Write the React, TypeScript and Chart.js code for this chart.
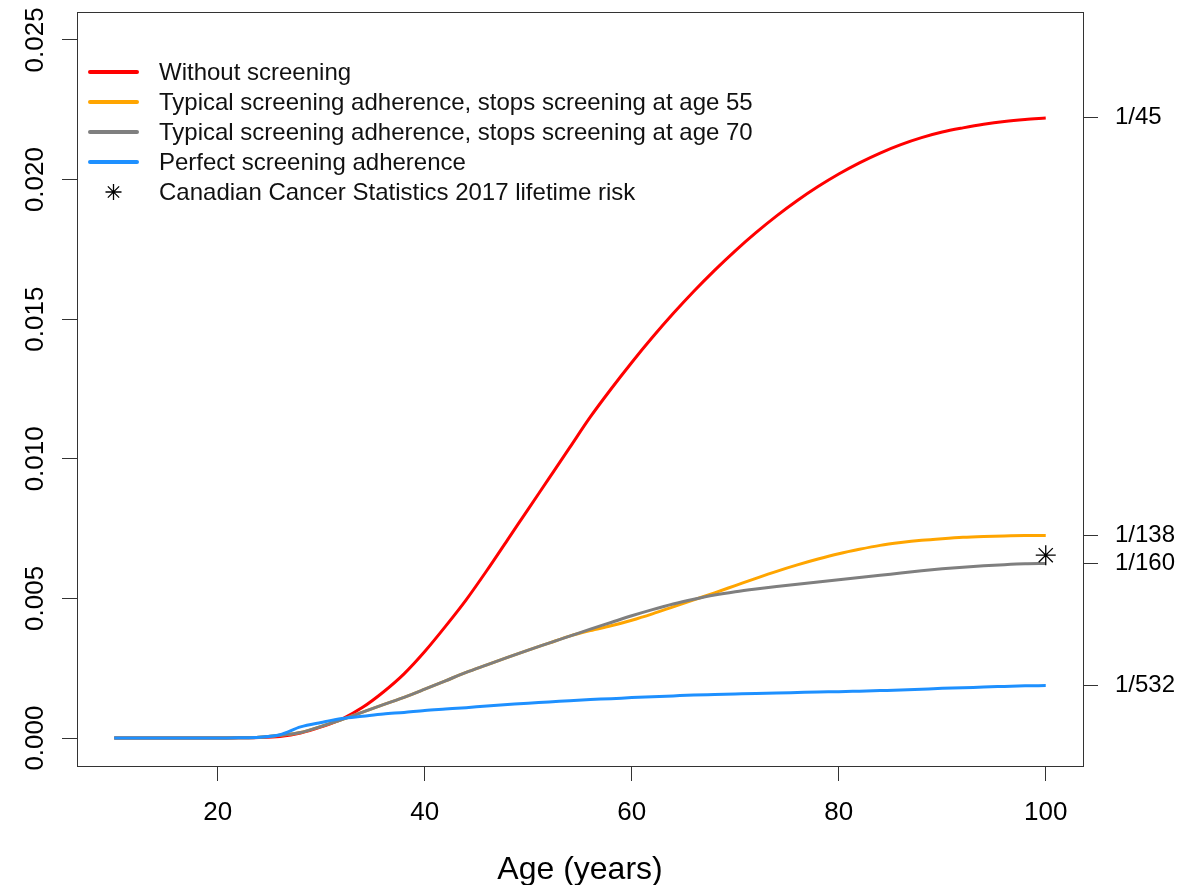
import React, { useEffect, useRef } from 'react';
import { Chart, registerables } from 'chart.js';

Chart.register(...registerables);

const FONT = '"Liberation Sans", Arial, Helvetica, sans-serif';

const ages = [10, 12, 14, 16, 18, 20, 22, 24, 26, 28, 30, 32, 34, 36, 38, 40, 42, 44, 46, 48, 50, 52, 54, 56, 58, 60, 62, 64, 66, 68, 70, 72, 74, 76, 78, 80, 82, 84, 86, 88, 90, 92, 94, 96, 98, 100];

const withoutScreening = [
  0, 0, 0, 0, 0, 0,
  0.00001, 0.00002, 0.00006, 0.00018, 0.0004, 0.00068, 0.0011, 0.00165, 0.0023, 0.0031,
  0.004, 0.00495, 0.006, 0.0071, 0.0082, 0.0093, 0.0104, 0.0115, 0.0125, 0.01345,
  0.01435, 0.0152, 0.016, 0.01675, 0.01745, 0.0181, 0.0187, 0.01925, 0.01975, 0.0202,
  0.0206, 0.02095, 0.02125, 0.0215, 0.0217, 0.02185, 0.02198, 0.02208, 0.02215, 0.0222,
];

const stopsAt55 = [
  0, 0, 0, 0, 0, 0,
  0.00001, 0.00003, 0.0001, 0.0002, 0.00042, 0.00066, 0.00093, 0.0012, 0.00146, 0.00175,
  0.00205, 0.00235, 0.00262, 0.00289, 0.00315, 0.0034, 0.00365, 0.00385, 0.00402, 0.00422,
  0.00445, 0.0047, 0.00495, 0.0052, 0.00546, 0.00572, 0.00597, 0.0062, 0.00641, 0.0066,
  0.00676, 0.0069, 0.007, 0.00708, 0.00714, 0.00719, 0.00722, 0.00724, 0.00725, 0.00725,
];

const stopsAt70 = [
  0, 0, 0, 0, 0, 0,
  0.00001, 0.00003, 0.0001, 0.0002, 0.00042, 0.00066, 0.00093, 0.0012, 0.00146, 0.00175,
  0.00205, 0.00235, 0.00262, 0.00289, 0.00315, 0.0034, 0.00365, 0.0039, 0.00414, 0.00438,
  0.0046, 0.0048, 0.00497, 0.00512, 0.00524, 0.00534, 0.00543, 0.00551, 0.00559, 0.00567,
  0.00575, 0.00583, 0.00591, 0.00599, 0.00606, 0.00612, 0.00617, 0.00621, 0.00624, 0.00625,
];

const perfectAdherence = [
  0, 0, 0, 0, 0, 0,
  0.00001, 0.00003, 0.00012, 0.0004, 0.00056, 0.0007, 0.00078, 0.00086, 0.00092, 0.00099,
  0.00104, 0.00109, 0.00115, 0.0012, 0.00125, 0.00129, 0.00134, 0.00138, 0.00141, 0.00145,
  0.00148, 0.00151, 0.00154, 0.00156, 0.00158, 0.0016, 0.00161, 0.00163, 0.00165, 0.00166,
  0.00168, 0.0017, 0.00172, 0.00175, 0.00178, 0.0018, 0.00183, 0.00185, 0.00187, 0.00188,
];

const ccsAge = [100];
const ccsRisk = [0.00655];

const xTicks = [20, 40, 60, 80, 100];
const yTicks = [0, 0.005, 0.01, 0.015, 0.02, 0.025];
const yTickLabels = ['0.000', '0.005', '0.010', '0.015', '0.020', '0.025'];
const rightTicks = [1 / 45, 1 / 138, 1 / 160, 1 / 532];
const rightTickLabels = ['1/45', '1/138', '1/160', '1/532'];

const seriesNames = [
  'Without screening',
  'Typical screening adherence, stops screening at age 55',
  'Typical screening adherence, stops screening at age 70',
  'Perfect screening adherence',
];
const starName = 'Canadian Cancer Statistics 2017 lifetime risk';
const seriesColors = ['#FF0000', '#FFA500', '#7F7F7F', '#1E90FF'];

const toPoints = (xs: number[], ys: number[]) => xs.map((x, i) => ({ x, y: ys[i] }));

const drawAsterisk = (ctx: CanvasRenderingContext2D, cx: number, cy: number, r: number) => {
  ctx.beginPath();
  for (let k = 0; k < 4; k++) {
    const a = (k * Math.PI) / 4;
    ctx.moveTo(cx - r * Math.cos(a), cy - r * Math.sin(a));
    ctx.lineTo(cx + r * Math.cos(a), cy + r * Math.sin(a));
  }
  ctx.stroke();
};

const decorPlugin = {
  id: 'decor',
  afterDraw(chart: any) {
    const { ctx, chartArea, scales } = chart;
    const { left, top, right, bottom } = chartArea;
    ctx.save();
    // frame
    ctx.strokeStyle = '#333';
    ctx.lineWidth = 1;
    ctx.strokeRect(Math.round(left) + 0.5, Math.round(top) + 0.5, Math.round(right - left), Math.round(bottom - top));

    // rotated y tick labels
    ctx.fillStyle = '#000';
    ctx.font = `26px ${FONT}`;
    ctx.textAlign = 'center';
    ctx.textBaseline = 'alphabetic';
    yTicks.forEach((v, i) => {
      const py = scales.y.getPixelForValue(v);
      ctx.save();
      ctx.translate(left - 34, py);
      ctx.rotate(-Math.PI / 2);
      ctx.fillText(yTickLabels[i], 0, 0);
      ctx.restore();
    });

    // legend
    const lx0 = left + 13;
    const lx1 = left + 60;
    const tx = left + 82;
    const ly0 = top + 60;
    const step = 30;
    ctx.font = `24px ${FONT}`;
    ctx.textAlign = 'left';
    ctx.textBaseline = 'middle';
    ctx.lineCap = 'round';
    seriesNames.forEach((name, i) => {
      const y = ly0 + i * step;
      ctx.strokeStyle = seriesColors[i];
      ctx.lineWidth = 4;
      ctx.beginPath();
      ctx.moveTo(lx0, y);
      ctx.lineTo(lx1, y);
      ctx.stroke();
      ctx.fillStyle = '#111';
      ctx.fillText(name, tx, y + 1);
    });
    const sy = ly0 + 4 * step;
    ctx.strokeStyle = '#000';
    ctx.lineWidth = 1.3;
    ctx.lineCap = 'butt';
    drawAsterisk(ctx, (lx0 + lx1) / 2, sy, 8);
    ctx.fillStyle = '#111';
    ctx.fillText(starName, tx, sy + 1);
    ctx.restore();
  },
};

const gridCfg = {
  drawOnChartArea: false,
  drawTicks: true,
  tickLength: 15,
  color: '#333',
  lineWidth: 1,
};

const zeroPad = (s: any) => {
  s.paddingTop = 0;
  s.paddingBottom = 0;
  s.paddingLeft = 0;
  s.paddingRight = 0;
};

export default function App() {
  const canvasRef = useRef<HTMLCanvasElement | null>(null);

  useEffect(() => {
    if (!canvasRef.current) return;
    const lineDs = (label: string, ys: number[], color: string, order: number) => ({
      label,
      data: toPoints(ages, ys),
      borderColor: color,
      backgroundColor: color,
      borderWidth: 3,
      pointRadius: 0,
      fill: false,
      cubicInterpolationMode: 'monotone' as const,
      order,
    });
    const chart = new Chart(canvasRef.current, {
      type: 'line',
      data: {
        datasets: [
          lineDs(seriesNames[0], withoutScreening, seriesColors[0], 4),
          lineDs(seriesNames[1], stopsAt55, seriesColors[1], 3),
          lineDs(seriesNames[2], stopsAt70, seriesColors[2], 2),
          lineDs(seriesNames[3], perfectAdherence, seriesColors[3], 1),
          {
            label: starName,
            data: toPoints(ccsAge, ccsRisk),
            showLine: false,
            pointStyle: 'star',
            pointRadius: 10,
            pointBorderWidth: 1.3,
            pointBorderColor: '#000',
            pointBackgroundColor: '#000',
            borderColor: '#000',
            order: 0,
            clip: false,
          } as any,
        ],
      },
      options: {
        responsive: false,
        animation: false,
        layout: { padding: { top: 12, left: 0, right: 0, bottom: 0 } },
        plugins: {
          legend: { display: false },
          tooltip: { enabled: false },
          title: { display: false },
        },
        scales: {
          x: {
            type: 'linear',
            min: 6.4,
            max: 103.6,
            afterBuildTicks: (s: any) => {
              s.ticks = xTicks.map((v) => ({ value: v }));
            },
            afterFit: (s: any) => {
              s.height = 119;
              zeroPad(s);
            },
            grid: gridCfg,
            border: { display: false },
            ticks: {
              autoSkip: false,
              maxRotation: 0,
              minRotation: 0,
              padding: 16,
              color: '#000',
              font: { family: FONT, size: 26 },
              callback: (v: any) => String(v),
            },
            title: {
              display: true,
              text: 'Age (years)',
              color: '#000',
              font: { family: FONT, size: 32, lineHeight: 0.95 },
              padding: { top: 0, bottom: 0 },
            },
          },
          y: {
            type: 'linear',
            position: 'left',
            min: -0.001,
            max: 0.026,
            afterBuildTicks: (s: any) => {
              s.ticks = yTicks.map((v) => ({ value: v }));
            },
            afterFit: (s: any) => {
              s.width = 77;
              zeroPad(s);
            },
            grid: gridCfg,
            border: { display: false },
            ticks: { display: false },
          },
          y2: {
            type: 'linear',
            position: 'right',
            min: -0.001,
            max: 0.026,
            afterBuildTicks: (s: any) => {
              s.ticks = rightTicks.map((v) => ({ value: v }));
            },
            afterFit: (s: any) => {
              s.width = 115;
              zeroPad(s);
            },
            grid: gridCfg,
            border: { display: false },
            ticks: {
              padding: 17,
              color: '#000',
              font: { family: FONT, size: 24 },
              callback: (_v: any, i: number) => rightTickLabels[i],
            },
          },
        },
      },
      plugins: [decorPlugin],
    });
    return () => chart.destroy();
  }, []);

  return (
    <div style={{ position: 'fixed', left: 0, top: 0, width: 1198, height: 885, background: '#fff' }}>
      <canvas ref={canvasRef} width={1198} height={885} style={{ display: 'block' }} />
    </div>
  );
}
